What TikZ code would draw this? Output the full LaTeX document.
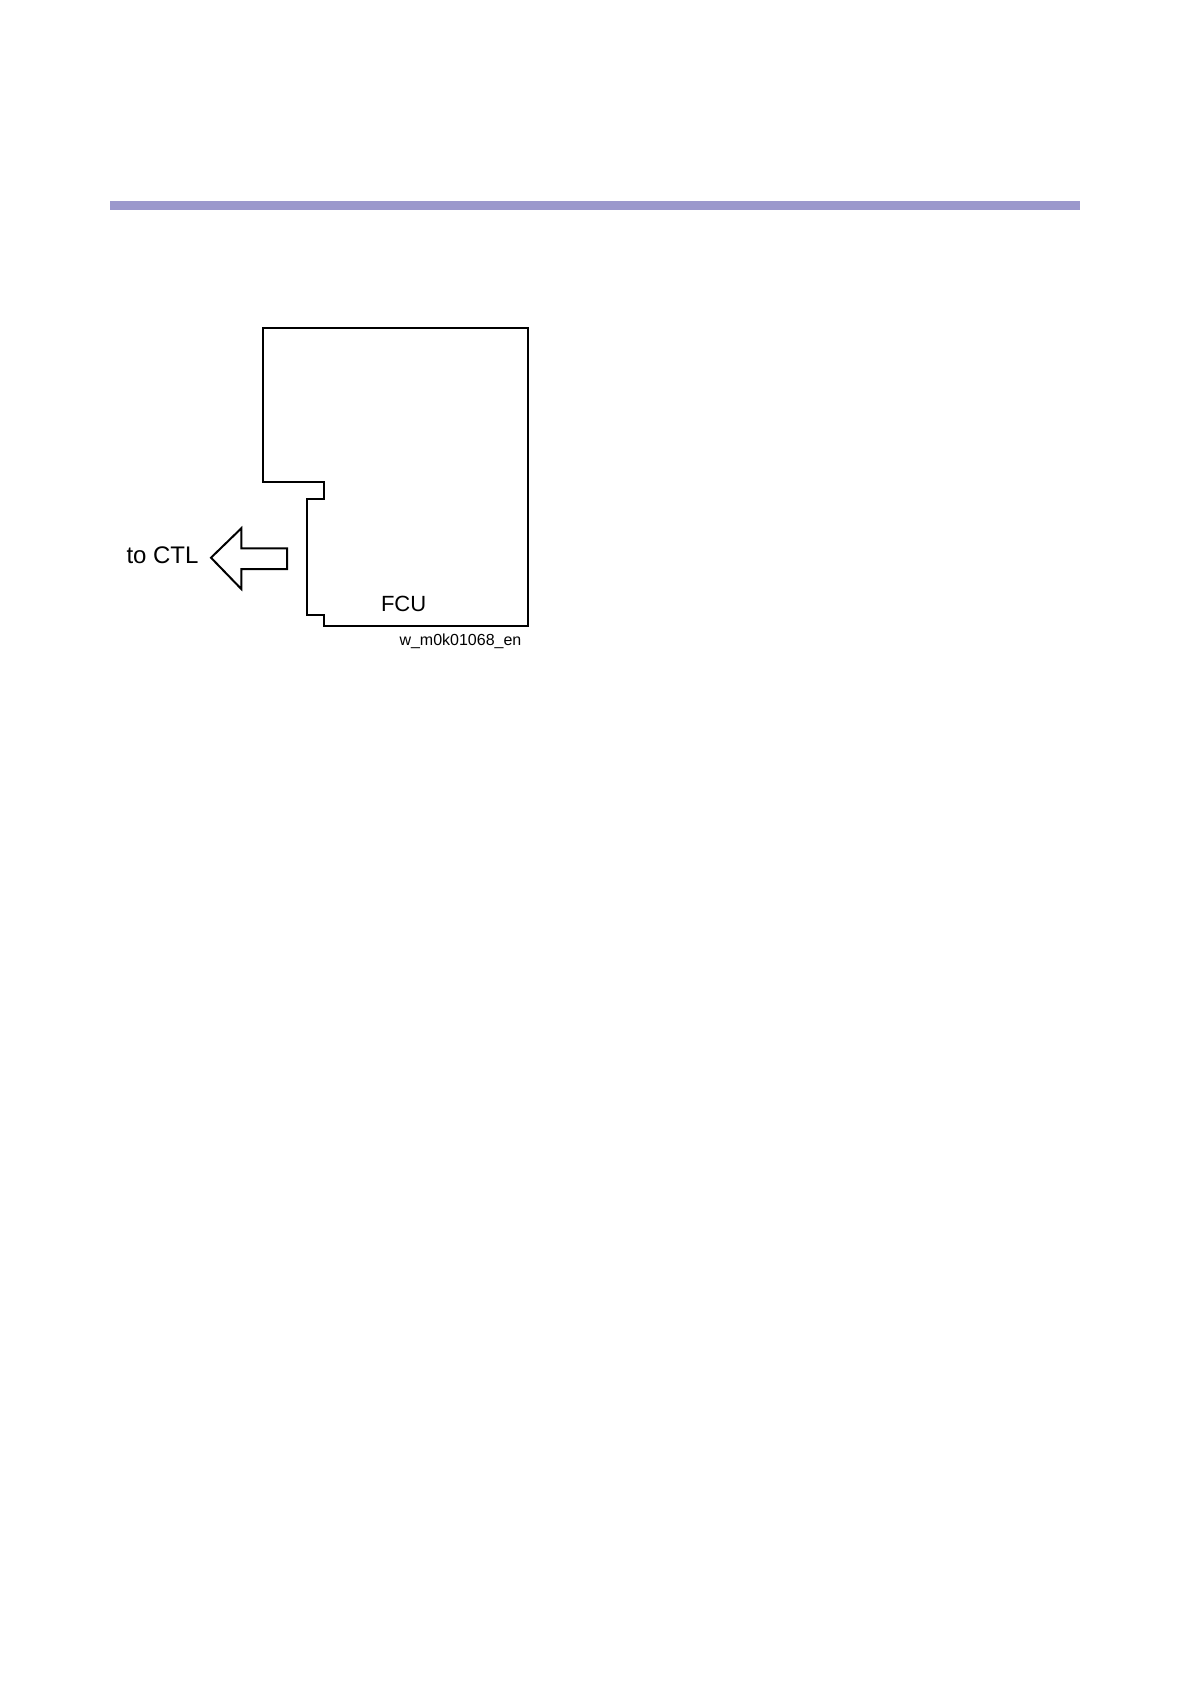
\documentclass[tikz,border=0pt]{standalone}
\usepackage{fontspec}
\setmainfont{Liberation Sans}
\definecolor{barcol}{RGB}{155,152,204}
\begin{document}
\begin{tikzpicture}[x=0.5pt,y=-0.5pt,
  outline/.style={draw=black,line width=1pt,line join=miter},
  lbl/.style={inner sep=0pt,outer sep=0pt,anchor=base west,font=\fontsize{12}{14}\selectfont},
  code/.style={inner sep=0pt,outer sep=0pt,anchor=base west,font=\fontsize{8}{9.5}\selectfont}]
\useasboundingbox[fill=white] (0,0) rectangle (1191,1684);
% header bar
\fill[barcol] (110,201) rectangle (1080,210);
% FCU board outline
\draw[outline] (263.3,327.7) -- (528,327.7) -- (528,626) -- (324.3,626) -- (324.3,615)
  -- (306.7,615) -- (306.7,499.3) -- (324.3,499.3) -- (324.3,482.3) -- (263.3,482.3) -- cycle;
% arrow to CTL
\draw[outline] (211,557.7) -- (241.3,528.3) -- (241.3,548.3) -- (287,548.3) -- (287,569)
  -- (241.3,569) -- (241.3,589) -- cycle;
\node[lbl] (ctl) at (126.5,563.3) {to CTL};
\node[lbl,font=\fontsize{11}{13}\selectfont] (fcu) at (381,611.7) {FCU};
\node[code] (fig) at (399.5,645) {w\_m0k01068\_en};
\end{tikzpicture}
\end{document}
